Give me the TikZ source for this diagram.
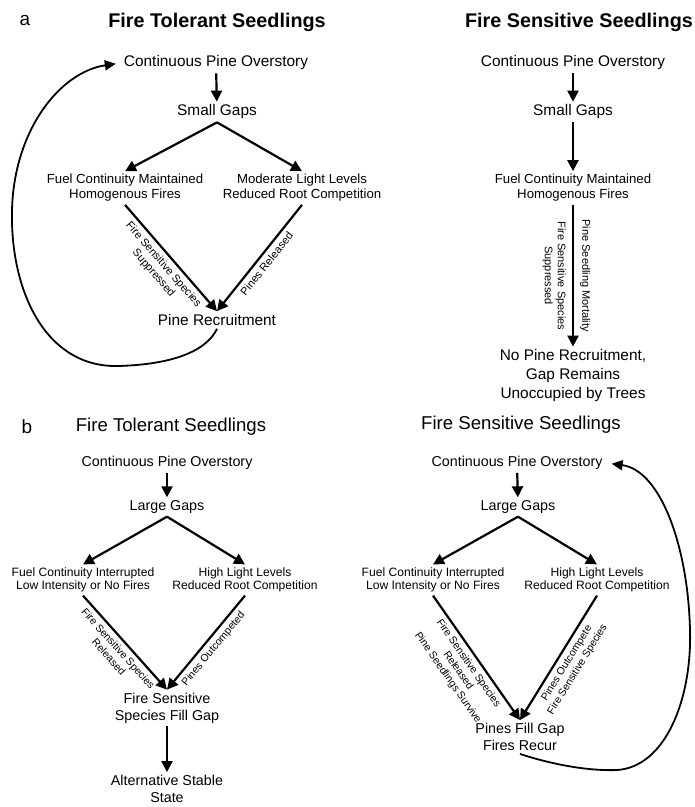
\documentclass[tikz,border=0pt]{standalone}
\usepackage{fontspec}
\setmainfont{Liberation Sans}
\usetikzlibrary{arrows.meta}

\tikzset{
  arr/.style={line width=2.2pt, -{Triangle[length=11pt,width=11pt]}},
  backarrow/.style={line width=1.8pt, -{Triangle[length=11pt,width=10pt]}},
  panel/.style={font=\fontsize{19}{22}\selectfont},
  titlea/.style={font=\fontsize{19.8}{22}\selectfont\bfseries},
  titleb/.style={font=\fontsize{18.6}{22}\selectfont},
  maina/.style={font=\fontsize{15.4}{19}\selectfont, align=center, inner sep=3pt},
  mainb/.style={font=\fontsize{14.3}{17}\selectfont, align=center, inner sep=3pt},
  suba/.style={font=\fontsize{13.2}{15}\selectfont, align=center, inner sep=3pt},
  subb/.style={font=\fontsize{12.1}{13.5}\selectfont, align=center, inner sep=3pt},
  laba/.style={font=\fontsize{11}{13}\selectfont, align=center, sloped, inner sep=4pt},
  labb/.style={font=\fontsize{10.5}{12.5}\selectfont, align=center, sloped, inner sep=4pt},
}

\begin{document}
\begin{tikzpicture}[x=1pt,y=-1pt]
    \useasboundingbox (0,0) rectangle (695,807);

    % Часть a: устойчивые к огню всходы
    \node[panel] (pa) at (25,20) {a};
    \node[titlea] (ta1) at (217,22) {Fire Tolerant Seedlings};
    \node[maina] (a1cpo) at (216,63) {Continuous Pine Overstory};
    \node[maina] (a1gap) at (217,112) {Small Gaps};
    \node[suba] (a1fuel) at (125,188) {Fuel Continuity Maintained\\Homogenous Fires};
    \node[suba] (a1light) at (302,188) {Moderate Light Levels\\Reduced Root Competition};
    \node[maina] (a1rec) at (217,320) {Pine Recruitment};

    \draw[arr] (a1cpo) -- (a1gap);
    \draw[arr] (a1gap.south) -- (a1fuel.north);
    \draw[arr] (a1gap.south) -- (a1light.north);
    \draw[arr] (a1fuel.south) -- node[laba, below] {Fire Sensitive Species\\Suppressed} (a1rec.north);
    \draw[arr] (a1light.south) -- node[laba, below] {Pines Released} (a1rec.north);

    % Обратная связь
    \draw[backarrow, shorten >=5pt] (a1rec.south) .. controls (205,354) and (165,365) .. (117,366)
        .. controls (45,367) and (10,290) .. (12,210)
        .. controls (14,130) and (60,72) .. (a1cpo.west);

    % Часть a: чувствительные к огню всходы
    \node[titlea] (ta2) at (579,22) {Fire Sensitive Seedlings};
    \node[maina] (a2cpo) at (573,63) {Continuous Pine Overstory};
    \node[maina] (a2gap) at (573,112) {Small Gaps};
    \node[suba] (a2fuel) at (573,188) {Fuel Continuity Maintained\\Homogenous Fires};
    \node[maina] (a2none) at (573,376) {No Pine Recruitment,\\Gap Remains\\Unoccupied by Trees};

    \draw[arr] (a2cpo) -- (a2gap);
    \draw[arr] (a2gap) -- (a2fuel);
    \draw[arr] (a2fuel) -- node[laba, below, inner sep=6pt] {Fire Sensitive Species\\Suppressed}
        node[laba, above, inner sep=6pt] {Pine Seedling Mortality} (a2none);

    % Часть b: устойчивые к огню всходы
    \node[panel] (pb) at (27,427) {b};
    \node[titleb] (tb1) at (171,427) {Fire Tolerant Seedlings};
    \node[mainb] (b1cpo) at (167,463) {Continuous Pine Overstory};
    \node[mainb] (b1gap) at (167,507) {Large Gaps};
    \node[subb] (b1fuel) at (83,580) {Fuel Continuity Interrupted\\Low Intensity or No Fires};
    \node[subb] (b1light) at (245,580) {High Light Levels\\Reduced Root Competition};
    \node[mainb] (b1fill) at (167,708) {Fire Sensitive\\Species Fill Gap};
    \node[mainb] (b1alt) at (167,789) {Alternative Stable\\State};

    \draw[arr] (b1cpo) -- (b1gap);
    \draw[arr] (b1gap.south) -- (b1fuel.north);
    \draw[arr] (b1gap.south) -- (b1light.north);
    \draw[arr] (b1fuel.south) -- node[labb, below] {Fire Sensitive Species\\Released} (b1fill.north);
    \draw[arr] (b1light.south) -- node[labb, below] {Pines Outcompeted} (b1fill.north);
    \draw[arr] (b1fill) -- (b1alt);

    % Часть b: чувствительные к огню всходы
    \node[titleb] (tb2) at (521,425) {Fire Sensitive Seedlings};
    \node[mainb] (b2cpo) at (517,463) {Continuous Pine Overstory};
    \node[mainb] (b2gap) at (518,507) {Large Gaps};
    \node[subb] (b2fuel) at (433,580) {Fuel Continuity Interrupted\\Low Intensity or No Fires};
    \node[subb] (b2light) at (597,580) {High Light Levels\\Reduced Root Competition};
    \node[mainb] (b2fill) at (520,737) {Pines Fill Gap\\Fires Recur};

    \draw[arr] (b2cpo) -- (b2gap);
    \draw[arr] (b2gap.south) -- (b2fuel.north);
    \draw[arr] (b2gap.south) -- (b2light.north);
    \draw[arr] (b2fuel.south) -- node[labb, below] {Fire Sensitive Species\\Released\\Pine Seedlings Survive} (b2fill.north);
    \draw[arr] (b2light.south) -- node[labb, below] {Pines Outcompete\\Fire Sensitive Species} (b2fill.north);

    % Обратная связь
    \draw[backarrow, shorten >=6pt] (b2fill.south) .. controls (560,767) and (595,771) .. (617,770)
        .. controls (665,767) and (692,700) .. (690,630)
        .. controls (688,545) and (660,470) .. (b2cpo.east);
\end{tikzpicture}
\end{document}
